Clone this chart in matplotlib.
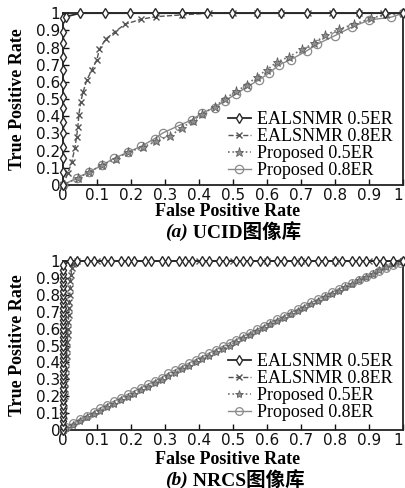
import matplotlib
matplotlib.use("Agg")
import matplotlib.pyplot as plt

labels = ['EALSNMR 0.5ER', 'EALSNMR 0.8ER', 'Proposed 0.5ER', 'Proposed 0.8ER']
ticks = [0, 0.1, 0.2, 0.3, 0.4, 0.5, 0.6, 0.7, 0.8, 0.9, 1]
tick_labels = ['0', '0.1', '0.2', '0.3', '0.4', '0.5', '0.6', '0.7', '0.8', '0.9', '1']

# (a) UCID
a_e5_x = [0, 0, 0, 0, 0, 0, 0, 0, 0, 0, 0, 0, 0, 0, 0.01, 0.05, 0.123, 0.196, 0.27, 0.349,
          0.422, 0.496, 0.569, 0.642, 0.718, 0.794, 0.87, 0.947, 1]
a_e5_y = [0, 0.075, 0.157, 0.22, 0.3, 0.366, 0.448, 0.51, 0.59, 0.67, 0.744, 0.826, 0.89, 0.97, 0.98, 1,
          1, 1, 1, 1, 1, 1, 1, 1, 1, 1, 1, 1, 1]
a_e8_x = [0, 0.015, 0.026, 0.035, 0.04, 0.044, 0.047, 0.052, 0.059, 0.07, 0.085, 0.1, 0.107, 0.126,
          0.152, 0.182, 0.23, 0.275, 0.35, 0.43, 0.5, 0.57, 0.64, 0.72, 0.79, 0.87, 0.94, 1]
a_e8_y = [0, 0.07, 0.134, 0.215, 0.28, 0.34, 0.41, 0.48, 0.54, 0.61, 0.67, 0.73, 0.79, 0.85,
          0.89, 0.935, 0.965, 0.98, 0.99, 1, 1, 1, 1, 1, 1, 1, 1, 1]
a_p5_x = [0, 0.044, 0.077, 0.114, 0.155, 0.19, 0.235, 0.275, 0.314, 0.349, 0.381, 0.41, 0.446, 0.475,
          0.51, 0.54, 0.569, 0.6, 0.628, 0.663, 0.704, 0.739, 0.771, 0.812, 0.856, 0.906, 0.95, 1]
a_p5_y = [0, 0.04, 0.075, 0.116, 0.15, 0.19, 0.22, 0.255, 0.285, 0.33, 0.375, 0.415, 0.455, 0.5,
          0.547, 0.58, 0.63, 0.67, 0.715, 0.745, 0.79, 0.826, 0.872, 0.907, 0.936, 0.97, 0.994, 1]
a_p8_x = [0, 0.04, 0.077, 0.115, 0.15, 0.19, 0.23, 0.27, 0.293, 0.34, 0.38, 0.41, 0.446, 0.475,
          0.51, 0.54, 0.575, 0.605, 0.636, 0.67, 0.716, 0.748, 0.8, 0.85, 0.9, 0.965, 1]
a_p8_y = [0, 0.04, 0.075, 0.115, 0.155, 0.19, 0.225, 0.27, 0.302, 0.345, 0.38, 0.42, 0.45, 0.49,
          0.53, 0.57, 0.61, 0.65, 0.7, 0.73, 0.78, 0.82, 0.87, 0.92, 0.96, 0.977, 1]

# (b) NRCS
b_e5_vert_y = [0, 0.025, 0.05, 0.075, 0.1, 0.125, 0.15, 0.175, 0.2, 0.225, 0.25, 0.275, 0.3, 0.325,
               0.35, 0.375, 0.4, 0.425, 0.45, 0.475, 0.5, 0.525, 0.55, 0.575, 0.6, 0.625, 0.65, 0.675,
               0.7, 0.725, 0.75, 0.775, 0.8, 0.825, 0.85, 0.875, 0.9, 0.925, 0.95, 0.975]
b_e5_horiz_x = [0.02, 0.04, 0.07, 0.09, 0.12, 0.14, 0.17, 0.19, 0.21, 0.24, 0.26, 0.29, 0.31, 0.34,
                0.36, 0.38, 0.41, 0.43, 0.46, 0.48, 0.51, 0.53, 0.55, 0.58, 0.6, 0.63, 0.65, 0.68,
                0.7, 0.72, 0.75, 0.77, 0.8, 0.82, 0.85, 0.87, 0.89, 0.92, 0.94, 0.97, 1]
b_e8_x = [0, 0.001, 0.002, 0.003, 0.004, 0.005, 0.006, 0.007, 0.008, 0.009, 0.01, 0.011, 0.012, 0.013,
          0.014, 0.015, 0.016, 0.017, 0.018, 0.019, 0.02, 0.021, 0.022, 0.024, 0.026, 0.03, 0.04,
          0.1, 0.2, 0.3, 0.4, 0.5, 0.6, 0.7, 0.8, 0.9, 1]
b_e8_y = [0, 0.04, 0.08, 0.12, 0.16, 0.2, 0.24, 0.28, 0.32, 0.36, 0.4, 0.44, 0.48, 0.52,
          0.56, 0.6, 0.64, 0.68, 0.72, 0.76, 0.8, 0.84, 0.88, 0.92, 0.96, 0.985, 1,
          1, 1, 1, 1, 1, 1, 1, 1, 1, 1]
b_p_x = [0, 0.01, 0.03, 0.05, 0.07, 0.09, 0.11, 0.13, 0.15, 0.17, 0.19, 0.21, 0.23, 0.25, 0.27,
         0.29, 0.31, 0.33, 0.35, 0.37, 0.39, 0.41, 0.43, 0.45, 0.47, 0.49, 0.51, 0.53, 0.55, 0.57,
         0.59, 0.61, 0.63, 0.65, 0.67, 0.69, 0.71, 0.73, 0.75, 0.77, 0.79, 0.81, 0.83, 0.85, 0.87,
         0.89, 0.91, 0.93, 0.95, 0.97, 0.99, 1]
b_p5_y = [0, 0.01, 0.03, 0.055, 0.075, 0.095, 0.115, 0.135, 0.155, 0.175, 0.195, 0.215, 0.235, 0.255,
          0.275, 0.295, 0.32, 0.34, 0.36, 0.38, 0.4, 0.42, 0.44, 0.46, 0.48, 0.5, 0.52, 0.545, 0.565,
          0.585, 0.605, 0.625, 0.645, 0.665, 0.685, 0.705, 0.725, 0.745, 0.765, 0.785, 0.805, 0.825,
          0.845, 0.865, 0.885, 0.905, 0.925, 0.945, 0.965, 0.98, 0.995, 1]
b_p8_y = [0, 0.015, 0.04, 0.065, 0.085, 0.105, 0.13, 0.15, 0.17, 0.19, 0.21, 0.23, 0.25, 0.27,
          0.29, 0.31, 0.335, 0.355, 0.375, 0.395, 0.415, 0.435, 0.455, 0.475, 0.495, 0.515, 0.535,
          0.555, 0.575, 0.595, 0.615, 0.635, 0.655, 0.675, 0.695, 0.715, 0.735, 0.755, 0.775, 0.795,
          0.815, 0.835, 0.85, 0.87, 0.89, 0.905, 0.925, 0.94, 0.96, 0.975, 0.99, 1]

b_e5_x = [0] * len(b_e5_vert_y) + b_e5_horiz_x
b_e5_y = b_e5_vert_y + [1] * len(b_e5_horiz_x)

sans = 'DejaVu Sans'
serif = ['Liberation Serif', 'Noto Sans CJK SC']

fig = plt.figure(figsize=(4.06, 4.88), dpi=100)
ax1 = fig.add_axes([0.155, 0.621, 0.838, 0.352])
ax2 = fig.add_axes([0.155, 0.119, 0.838, 0.346])

def draw(ax, e5, e8, p5, p8, msz, leg_y):
    ax.plot(p8[0], p8[1], '-', color='#8a8a8a', lw=1.0, marker='o', ms=msz + 1.5,
            mfc='none', mec='#8a8a8a', mew=0.9, clip_on=False, label=labels[3], zorder=3)
    ax.plot(p5[0], p5[1], ':', color='#707070', lw=1.2, marker='*', ms=msz + 2,
            mfc='#909090', mec='#606060', mew=0.6, clip_on=False, label=labels[2], zorder=4)
    ax.plot(e8[0], e8[1], '--', color='#555555', lw=1.0, marker='x', ms=msz,
            mec='#555555', mew=1.0, clip_on=False, label=labels[1], zorder=5)
    ax.plot(e5[0], e5[1], '-', color='#2a2a2a', lw=1.3, marker='d', ms=msz + 1,
            mfc='white', mec='#2a2a2a', mew=1.0, clip_on=False, label=labels[0], zorder=6)
    ax.set_xlim(0, 1)
    ax.set_ylim(0, 1)
    ax.set_xticks(ticks)
    ax.set_yticks(ticks)
    ax.set_xticklabels(tick_labels, fontfamily=sans, fontsize=11)
    ax.set_yticklabels(tick_labels, fontfamily=sans, fontsize=11)
    # keep the last "1" inside the image
    ax.get_xticklabels()[-1].set_horizontalalignment('right')
    ax.tick_params(direction='in', length=4, width=1, pad=2, colors='#111111')
    for s in ax.spines.values():
        s.set_linewidth(1.3)
        s.set_color('#222222')
    ax.set_ylabel('True Positive Rate', fontfamily='Liberation Serif', fontweight='bold',
                  fontsize=13)
    ax.yaxis.set_label_coords(-0.108, 0.5)
    h, l = ax.get_legend_handles_labels()
    ax.legend(h[::-1], l[::-1], loc='lower right', bbox_to_anchor=(1.0, leg_y), frameon=False,
              prop={'family': 'Liberation Serif', 'size': 13}, handlelength=1.3,
              handletextpad=0.3, labelspacing=0.0, borderaxespad=0.2)

draw(ax1, (a_e5_x, a_e5_y), (a_e8_x, a_e8_y), (a_p5_x, a_p5_y), (a_p8_x, a_p8_y), 4.5, -0.03)
draw(ax2, (b_e5_x, b_e5_y), (b_e8_x, b_e8_y), (b_p_x, b_p5_y), (b_p_x, b_p8_y), 4.0, -0.012)

W, H = 406.0, 488.0
for yl, cy, tag, name in [(212, 232, '(a)', ' UCID图像库'), (460, 480, '(b)', ' NRCS图像库')]:
    fig.text(0.56, 1 - yl / H, 'False Positive Rate', ha='center', va='center',
             fontfamily='Liberation Serif', fontweight='bold', fontsize=13)
    fig.text(188 / W, 1 - cy / H, tag, ha='right', va='center',
             fontfamily='Liberation Serif', fontstyle='italic', fontweight='bold', fontsize=14)
    fig.text(188 / W, 1 - cy / H, name, ha='left', va='center',
             fontfamily=serif, fontweight='bold', fontsize=14)

fig.savefig('out.png', dpi=100)
